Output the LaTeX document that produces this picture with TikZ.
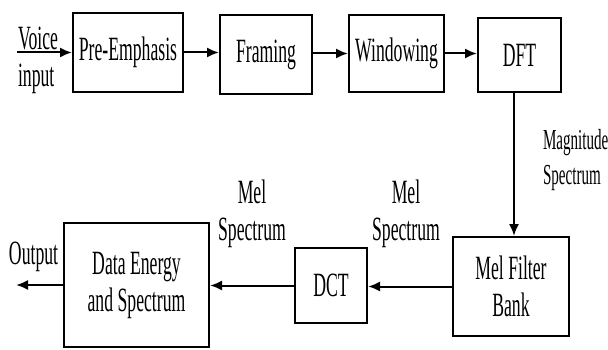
\documentclass[tikz,border=0pt]{standalone}
\usepackage{fontspec}
\setmainfont[FakeStretch=0.52]{Liberation Serif}
\usetikzlibrary{arrows.meta}

\begin{document}
\begin{tikzpicture}[
  x=1pt, y=-1pt,
  >={Latex[length=12pt,width=10pt]},
  line width=2pt,
  font=\fontsize{34}{37}\selectfont,
  block/.style={draw,line width=2pt,inner sep=0pt,align=center},
  lbl/.style={inner sep=0pt,align=center}
]
  \useasboundingbox (0,0) rectangle (608,350);

  % top row, left to right
  \node[block,minimum width=110pt,minimum height=79pt] (preemph) at (128,52.5) {Pre-Emphasis};
  \node[block,minimum width=92pt,minimum height=79pt] (framing) at (266,54.5) {Framing};
  \node[block,minimum width=95pt,minimum height=77pt] (window) at (396.5,53.5) {Windowing};
  \node[block,minimum width=83pt,minimum height=74pt] (dft) at (519.5,55) {DFT};

  % bottom row, right to left
  \node[block,minimum width=116pt,minimum height=99pt] (bank) at (511,286.5) {Mel Filter\\Bank};
  \node[block,minimum width=72pt,minimum height=75pt] (dct) at (331,285.5) {DCT};
  \node[block,minimum width=145pt,minimum height=124pt] (data) at (136.5,285) {Data Energy\\and Spectrum};

  % labels
  \node[lbl,align=left,anchor=west] (voice) at (17,60) {Voice\\input};
  \node[lbl,anchor=west] (output) at (8,257) {Output};
  \node[lbl,align=left,anchor=west,font=\fontsize{29}{35}\selectfont] (magspec) at (542,160.5) {Magnitude\\Spectrum};
  \node[lbl] (melspecl) at (252,213.5) {Mel\\Spectrum};
  \node[lbl] (melspecr) at (406,213.5) {Mel\\Spectrum};

  \coordinate (vin) at (17,52.5);
  \coordinate (vout) at (16,285);
  \coordinate (dftout) at (514,0);

  % connectors
  \draw[->] (vin) -- (preemph.west);
  \draw[->] (preemph.east) -- (preemph.east -| framing.west);
  \draw[->] (framing.east |- window.west) -- (window.west);
  \draw[->] (window.east) -- (window.east -| dft.west);
  \draw[->] (dftout |- dft.south) -- (dftout |- bank.north);
  \draw[->] (bank.west) -- (bank.west -| dct.east);
  \draw[->] (dct.west) -- (dct.west -| data.east);
  \draw[->] (data.west) -- (data.west -| vout);
\end{tikzpicture}
\end{document}
